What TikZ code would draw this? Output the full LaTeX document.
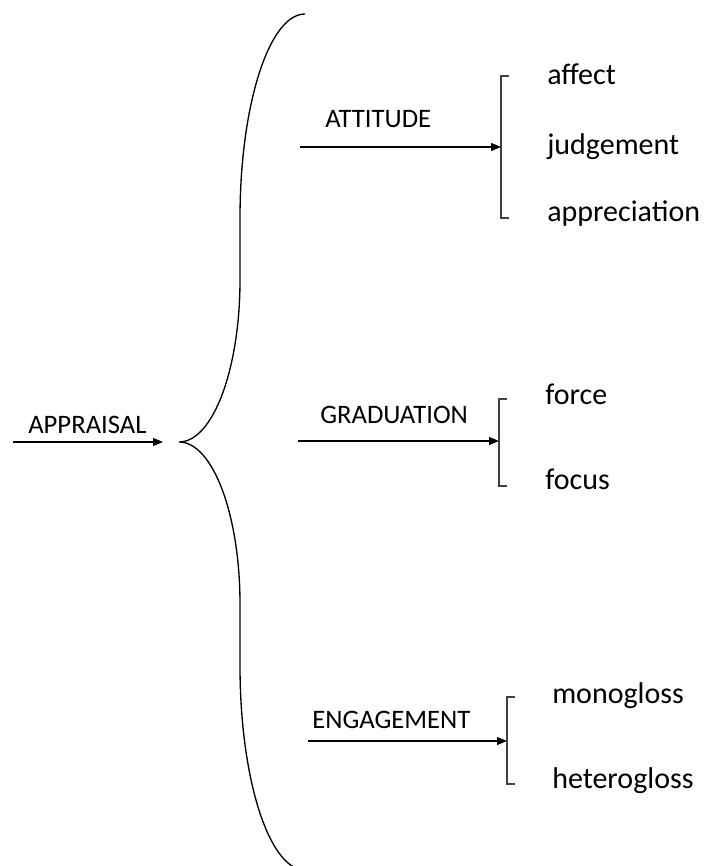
\documentclass[tikz,border=0pt]{standalone}
\usepackage{fontspec}
\setmainfont{Carlito}
\usetikzlibrary{arrows.meta}
\begin{document}
\begin{tikzpicture}[x=0.75pt,y=-0.75pt,
  caplabel/.style={anchor=base west,inner sep=0pt,font=\fontsize{20}{24}\selectfont},
  optlabel/.style={anchor=base west,inner sep=0pt,font=\fontsize{22.5}{27}\selectfont},
  feed/.style={line width=0.8pt,-{Triangle[length=7.5pt,width=6pt]}},
  choice/.style={line width=0.8pt,draw=black!75},
  bracestroke/.style={line width=1pt}]
\useasboundingbox (0,0) rectangle (704,866);

% entry condition
\coordinate (appIn) at (13,442);
\coordinate (braceTip) at (179,442);
\node[caplabel] (appraisal) at (28,433) {APPRAISAL};
\draw[feed] (appIn) -- (163,442) coordinate (appOut);

% the large brace opening the three systems
\draw[bracestroke] (305,14) .. controls (269.1,14) and (240,105.3) .. (240,218)
  -- (240,280) .. controls (240,369.5) and (212.7,442) .. (braceTip)
  .. controls (212.7,442) and (240,514.5) .. (240,604)
  -- (240,666) .. controls (240,778.7) and (269.1,870) .. (305,870);

% ATTITUDE
\coordinate (attIn) at (300,147);
\coordinate (attBr) at (501,147);
\node[caplabel] (attitude) at (325,128) {ATTITUDE};
\draw[feed] (attIn) -- (attBr);
\draw[choice] (509,76) -- (501,76) -- (501,218) -- (509,218);
\node[optlabel] (affect) at (547,85) {affect};
\node[optlabel] (judgement) at (547,155) {judgement};
\node[optlabel] (appreciation) at (547,222) {appreciation};

% GRADUATION
\coordinate (gradIn) at (298,441);
\coordinate (gradBr) at (499,441);
\node[caplabel] (graduation) at (320,423) {GRADUATION};
\draw[feed] (gradIn) -- (gradBr);
\draw[choice] (507,399) -- (499,399) -- (499,486) -- (507,486);
\node[optlabel] (force) at (545,404) {force};
\node[optlabel] (focus) at (545,489) {focus};

% ENGAGEMENT
\coordinate (engIn) at (308,741);
\coordinate (engBr) at (507,741);
\node[caplabel] (engagement) at (312,728) {ENGAGEMENT};
\draw[feed] (engIn) -- (engBr);
\draw[choice] (515,697) -- (507,697) -- (507,784) -- (515,784);
\node[optlabel] (monogloss) at (552,703) {monogloss};
\node[optlabel] (heterogloss) at (552,788) {heterogloss};
\end{tikzpicture}
\end{document}
